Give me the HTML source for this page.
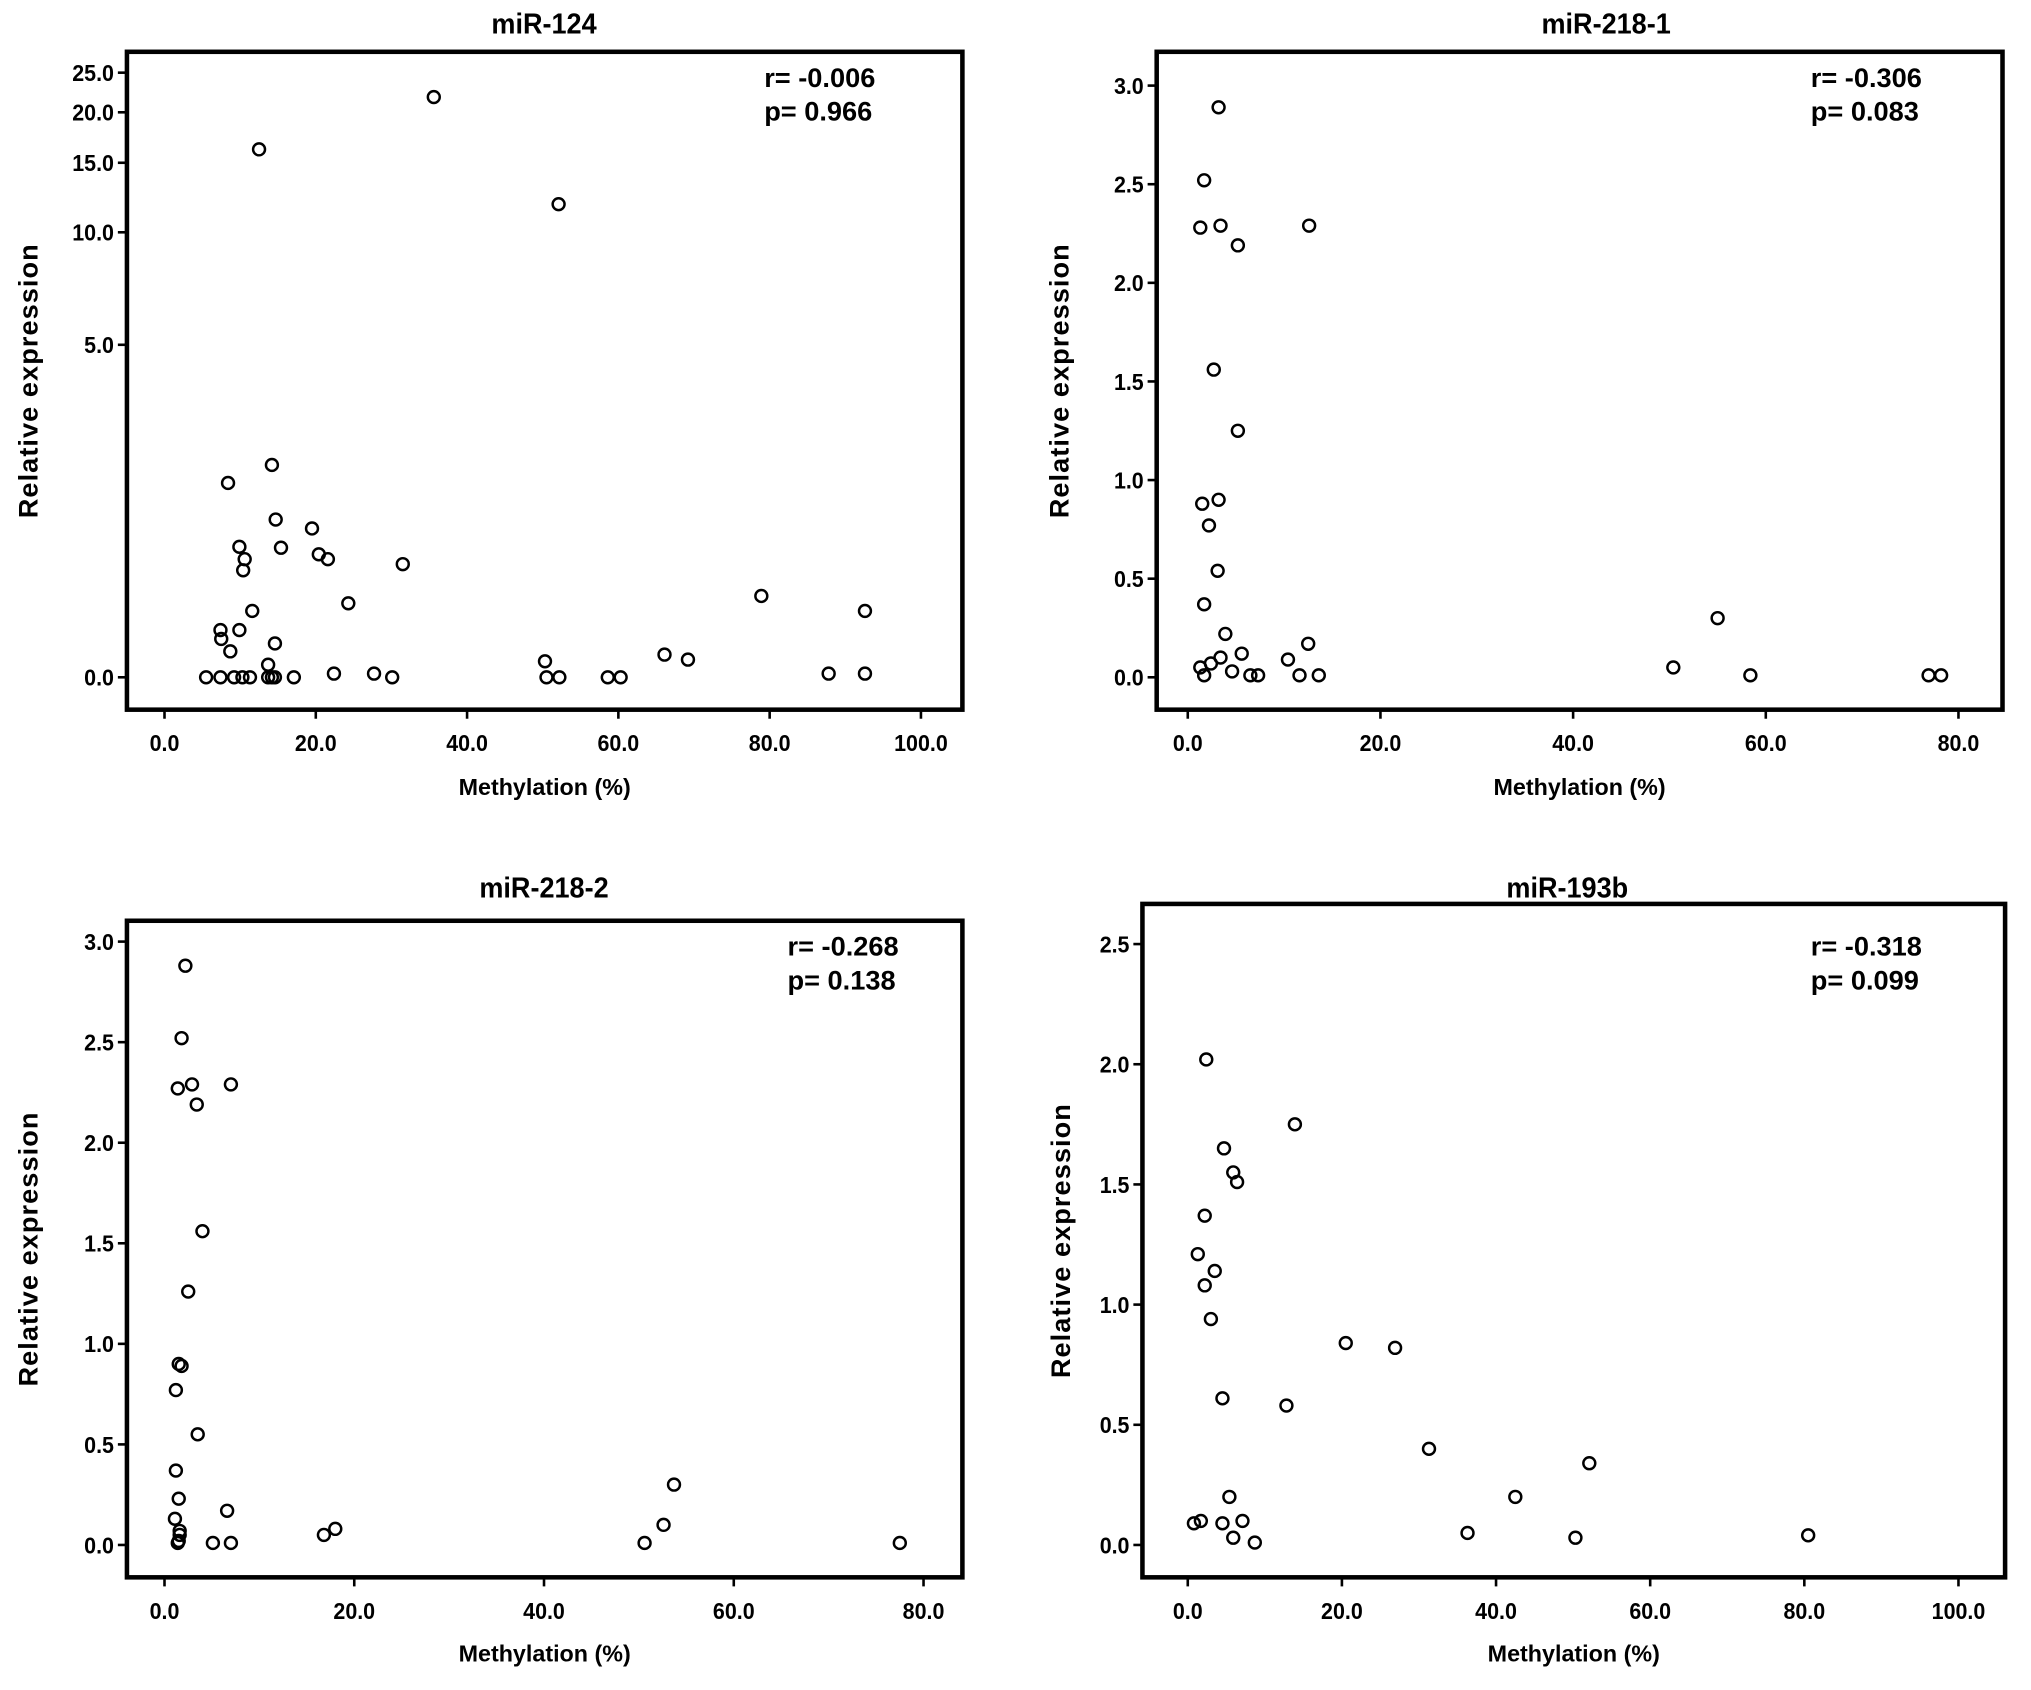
<!DOCTYPE html>
<html><head><meta charset="utf-8"><style>
html,body{margin:0;padding:0;background:#fff;}
svg{display:block;font-family:"Liberation Sans",Arial,sans-serif;font-weight:bold;}
</style></head><body>
<svg id="fig" width="2031" height="1690" viewBox="0 0 1568 1305" preserveAspectRatio="none" xmlns="http://www.w3.org/2000/svg"></svg>
<script>
// ---- data ----
const mir124X = [35.6,12.5,52.1,14.2,8.4,14.7,19.5,9.9,15.4,10.6,20.4,21.6,31.5,10.4,24.3,11.6,78.9,92.6,7.4,9.9,7.5,14.6,8.7,13.7,50.3,66.1,69.2,5.5,7.4,9.2,10.3,11.3,13.7,14.2,14.6,17.1,22.4,27.7,30.1,50.5,52.2,58.6,60.3,87.8,92.6];
const mir124Y = [21.8,16.2,11.8,2.14,1.85,1.34,1.23,1.02,1.01,0.89,0.94,0.89,0.84,0.78,0.49,0.43,0.55,0.43,0.29,0.29,0.23,0.20,0.15,0.07,0.09,0.13,0.10,0,0,0,0,0,0,0,0,0,0.02,0.02,0,0,0,0,0,0.02,0.02];
const mir2181X = [3.2,1.7,1.3,3.4,5.2,12.6,2.7,5.2,1.5,3.2,2.2,3.1,1.7,3.9,5.6,3.4,12.5,10.4,55.0,50.4,2.4,1.3,4.6,1.7,6.5,7.3,11.6,13.6,58.4,76.9,78.2];
const mir2181Y = [2.89,2.52,2.28,2.29,2.19,2.29,1.56,1.25,0.88,0.90,0.77,0.54,0.37,0.22,0.12,0.10,0.17,0.09,0.30,0.05,0.07,0.05,0.03,0.01,0.01,0.01,0.01,0.01,0.01,0.01,0.01];
const mir2182X = [2.2,1.8,1.4,2.9,3.4,7.0,4.0,2.5,1.5,1.8,1.2,3.5,1.2,1.5,1.1,6.6,1.6,1.6,1.5,1.4,5.1,7.0,16.8,18.0,53.7,52.6,50.6,77.5];
const mir2182Y = [2.88,2.52,2.27,2.29,2.19,2.29,1.56,1.26,0.90,0.89,0.77,0.55,0.37,0.23,0.13,0.17,0.07,0.05,0.02,0.01,0.01,0.01,0.05,0.08,0.30,0.10,0.01,0.01];
const mir193X = [2.4,13.9,4.7,5.9,6.4,2.2,1.3,3.5,2.2,3.0,20.5,26.9,4.5,12.8,31.3,52.1,5.4,42.5,0.8,1.7,4.5,7.1,5.9,8.7,36.3,50.3,80.5];
const mir193Y = [2.02,1.75,1.65,1.55,1.51,1.37,1.21,1.14,1.08,0.94,0.84,0.82,0.61,0.58,0.40,0.34,0.20,0.20,0.09,0.10,0.09,0.10,0.03,0.01,0.05,0.03,0.04];
const xTicks100 = [0,20,40,60,80,100];
const xTicks80 = [0,20,40,60,80];
const yTicksLog = [0,5,10,15,20,25];
const yTicks30 = [0,0.5,1.0,1.5,2.0,2.5,3.0];
const yTicks25 = [0,0.5,1.0,1.5,2.0,2.5];

const NS="http://www.w3.org/2000/svg";
const svg=document.getElementById('fig');
function mk(tag,attrs,parent){const e=document.createElementNS(NS,tag);for(const k in attrs)e.setAttribute(k,attrs[k]);(parent||svg).appendChild(e);return e;}

const panels=[
 {key:'mir-124',title:'miR-124',r:'r= -0.006',p:'p= 0.966',xs:mir124X,ys:mir124Y,xt:xTicks100,yt:yTicksLog,
  L:98,R:743,T:40,B:548,x0:127,xpu:5.84,y0:523,ypu:143.3,log:true,tx:420,ty:26,ylx:29,xly:614,sx:590,sy:67},
 {key:'mir-218-1',title:'miR-218-1',r:'r= -0.306',p:'p= 0.083',xs:mir2181X,ys:mir2181Y,xt:xTicks80,yt:yTicks30,
  L:893,R:1546,T:40,B:548,x0:917,xpu:7.4375,y0:523,ypu:152.3,log:false,tx:1240,ty:26,ylx:825,xly:614,sx:1398,sy:67},
 {key:'mir-218-2',title:'miR-218-2',r:'r= -0.268',p:'p= 0.138',xs:mir2182X,ys:mir2182Y,xt:xTicks80,yt:yTicks30,
  L:98,R:743,T:711,B:1218,x0:127,xpu:7.325,y0:1193,ypu:155.3,log:false,tx:420,ty:693,ylx:29,xly:1283,sx:608,sy:738},
 {key:'mir-193b',title:'miR-193b',r:'r= -0.318',p:'p= 0.099',xs:mir193X,ys:mir193Y,xt:xTicks100,yt:yTicks25,
  L:882,R:1548,T:698,B:1218,x0:917,xpu:5.95,y0:1193,ypu:185.6,log:false,tx:1210,ty:693,ylx:826,xly:1283,sx:1398,sy:738}
];

panels.forEach(P=>{
  const g=mk('g',{});
  
  
  const xs=v=>P.x0+v*P.xpu;
  const ys=v=>P.log?P.y0-Math.log(1+v)*P.ypu:P.y0-v*P.ypu;
  const t=mk('text',{x:P.tx,y:P.ty,'text-anchor':'middle','font-size':22,transform:`translate(${P.tx} 0) scale(0.95 1) translate(${-P.tx} 0)`},g);t.textContent=P.title;
  
  
  const fr=mk('rect',{x:P.L,y:P.T,width:P.R-P.L,height:P.B-P.T,fill:'none',stroke:'#000','stroke-width':3.5},g);
  
  
  P.xt.forEach(v=>{
    const x=xs(v);
    mk('line',{x1:x,x2:x,y1:P.B,y2:P.B+7,stroke:'#000','stroke-width':2},g);
    const l=mk('text',{x:x,y:P.B+32,'text-anchor':'middle','font-size':18,transform:`translate(${x} 0) scale(0.92 1) translate(${-x} 0)`},g);l.textContent=v.toFixed(1);
    
    
  });
  P.yt.forEach(v=>{
    const y=ys(v);
    mk('line',{x1:P.L-7,x2:P.L,y1:y,y2:y,stroke:'#000','stroke-width':2},g);
    const lx=P.L-10;
    const l=mk('text',{x:lx,y:y+6.5,'text-anchor':'end','font-size':18,transform:`translate(${lx} 0) scale(0.92 1) translate(${-lx} 0)`},g);l.textContent=v.toFixed(1);
    
    
  });
  const xl=mk('text',{x:(P.L+P.R)/2,y:P.xly,'text-anchor':'middle','font-size':18},g);xl.textContent='Methylation (%)';
  
  
  const yc=(P.T+P.B)/2;
  const yl=mk('text',{x:P.ylx,y:yc,'text-anchor':'middle','font-size':21,transform:`rotate(-90 ${P.ylx} ${yc})`,'xml:space':'preserve','letter-spacing':'0.8'},g);yl.textContent='Relative  expression';
  
  
  const r=mk('text',{x:P.sx,y:P.sy,'font-size':21},g);r.textContent=P.r;
  
  
  const p=mk('text',{x:P.sx,y:P.sy+26,'font-size':21},g);p.textContent=P.p;
  
  
  P.xs.forEach((xv,i)=>{
    const c=mk('circle',{cx:xs(xv),cy:ys(P.ys[i]),r:4.6,fill:'none',stroke:'#000','stroke-width':1.9},g);
    
    
  });
});
</script>
</body></html>
